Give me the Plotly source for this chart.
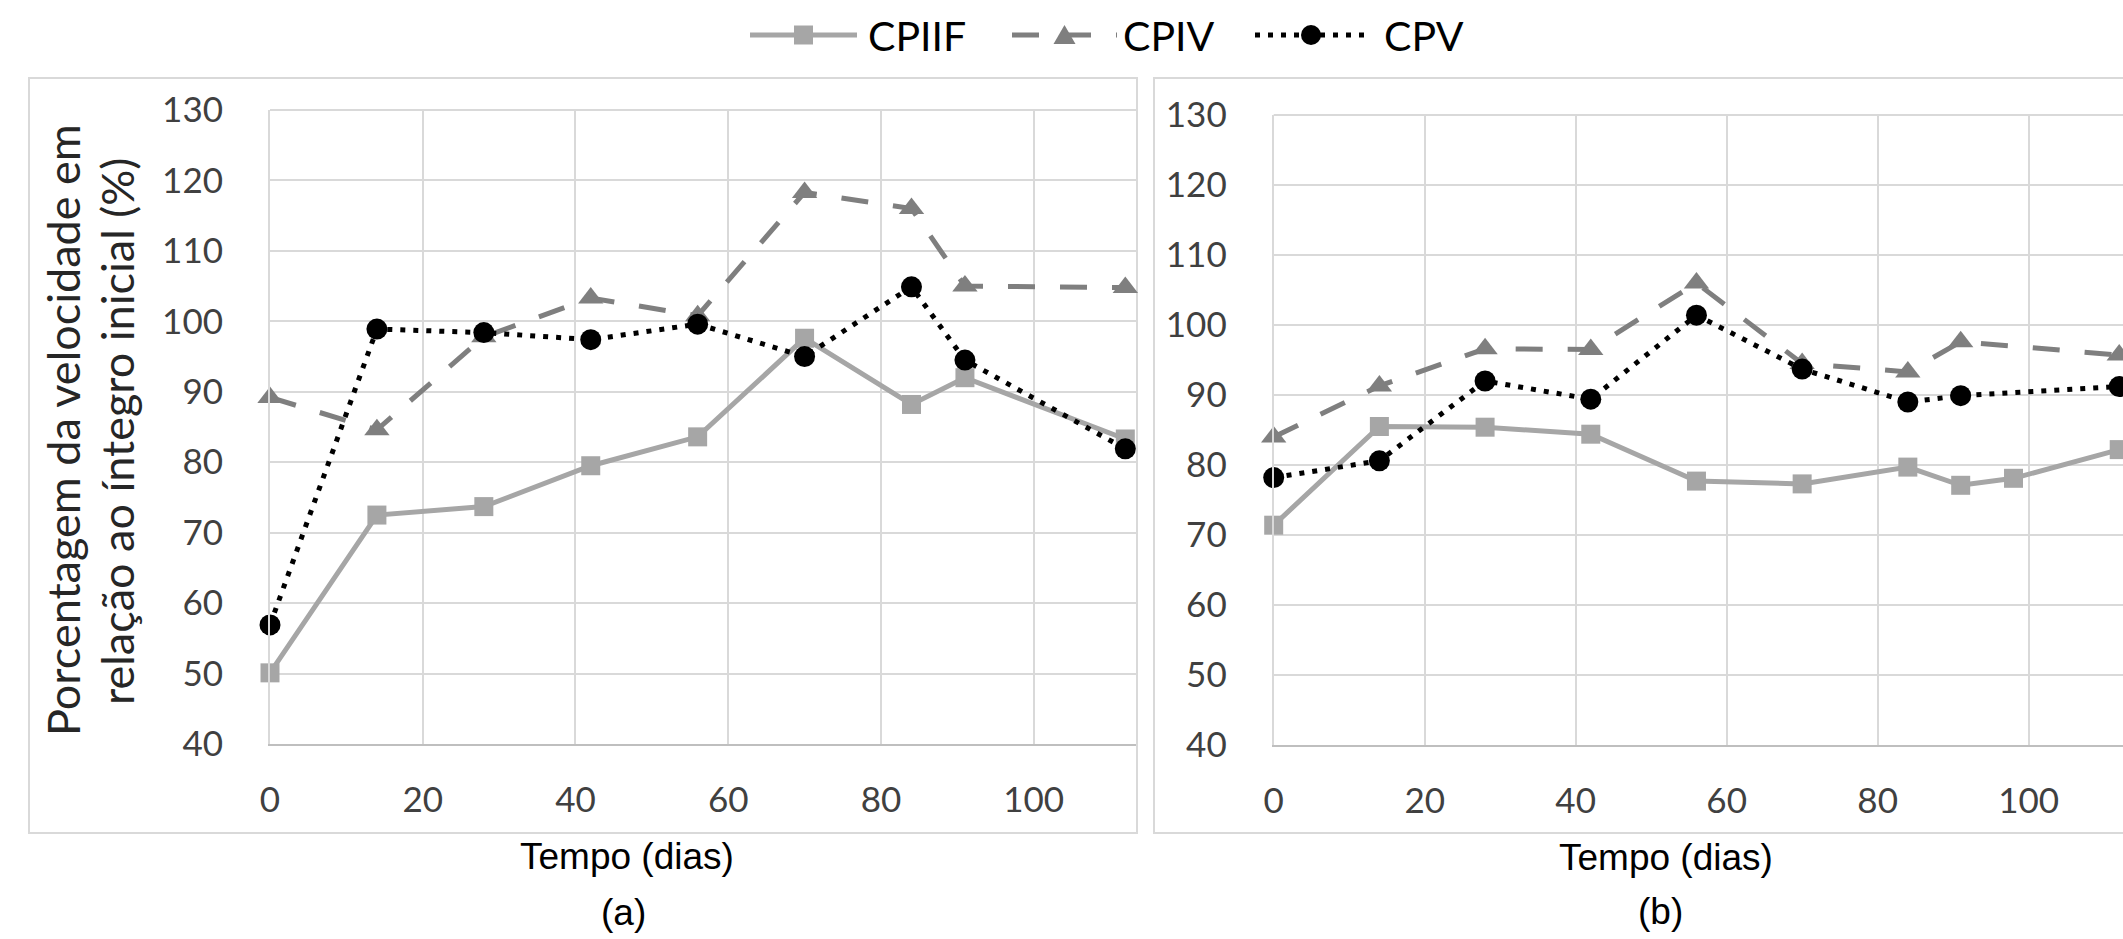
import plotly.graph_objects as go

W, H = 2123, 939

# ---------------- data ----------------
days_a = [0, 14, 28, 42, 56, 70, 84, 91, 112]
cpiif_a = [50.1, 72.5, 73.7, 79.5, 83.6, 97.6, 88.2, 92.0, 83.3]
cpiv_a = [89.2, 84.6, 97.8, 103.3, 100.8, 118.3, 116.0, 105.0, 104.8]
cpv_a = [56.9, 98.9, 98.4, 97.4, 99.6, 95.0, 104.9, 94.5, 81.9]

days_b_cpiif = [0, 14, 28, 42, 56, 70, 84, 91, 98, 112]
cpiif_b = [71.4, 85.5, 85.4, 84.4, 77.7, 77.3, 79.7, 77.1, 78.1, 82.2]
days_b = [0, 14, 28, 42, 56, 70, 84, 91, 112]
cpiv_b = [84.0, 91.3, 96.6, 96.5, 106.0, 94.5, 93.3, 97.6, 95.7]
cpv_b = [78.2, 80.6, 92.0, 89.4, 101.4, 93.7, 89.0, 89.9, 91.2]

x_ticks = [0, 20, 40, 60, 80, 100]
y_ticks = [40, 50, 60, 70, 80, 90, 100, 110, 120, 130]

series_names = ["CPIIF", "CPIV", "CPV"]

# ---------------- styles ----------------
colors = {"CPIIF": "#A6A6A6", "CPIV": "#7F7F7F", "CPV": "#000000"}
dashes = {"CPIIF": "solid", "CPIV": "27px,25px", "CPV": "5px,8px"}
symbols = {"CPIIF": "square", "CPIV": "triangle-up", "CPV": "circle"}
msizes = {"CPIIF": 19, "CPIV": 22, "CPV": 21}

fig = go.Figure()

panel_a = [(days_a, cpiif_a), (days_a, cpiv_a), (days_a, cpv_a)]
panel_b = [(days_b_cpiif, cpiif_b), (days_b, cpiv_b), (days_b, cpv_b)]

for axes, panel in ((("x", "y"), panel_a), (("x2", "y2"), panel_b)):
    for name, (xs, ys) in zip(series_names, panel):
        fig.add_trace(go.Scatter(
            x=xs, y=ys, mode="lines+markers", name=name,
            xaxis=axes[0], yaxis=axes[1], showlegend=False, cliponaxis=False,
            line=dict(color=colors[name], width=5, dash=dashes[name]),
            marker=dict(symbol=symbols[name], size=msizes[name], color=colors[name],
                        line=dict(width=0))))

def px_x(p):
    return p / W

def px_y(p):
    return 1 - p / H

tick_font = dict(family="Lato", size=35, color="#404040")
grid = "#D9D9D9"

common_x = dict(tickvals=x_ticks, showgrid=True, gridcolor=grid, gridwidth=2,
                zeroline=False, showline=True, linecolor="#BFBFBF", linewidth=2,
                ticks="", tickfont=tick_font, ticklabelstandoff=24, automargin=False)
common_y = dict(tickvals=y_ticks, range=[40, 130], showgrid=True, gridcolor=grid,
                gridwidth=2, zeroline=False, showline=True, linecolor=grid,
                linewidth=2, ticks="", tickfont=tick_font, ticklabelstandoff=38,
                automargin=False)

fig.update_layout(
    width=W, height=H, autosize=False,
    margin=dict(l=0, r=0, t=0, b=0, pad=0, autoexpand=False),
    paper_bgcolor="white", plot_bgcolor="white",
    xaxis=dict(domain=[px_x(270), px_x(1136)], range=[0, 113.4], anchor="y", **common_x),
    yaxis=dict(domain=[px_y(744), px_y(110)], anchor="x", **common_y),
    xaxis2=dict(domain=[px_x(1273.7), 1.0], range=[0, 112.5], anchor="y2", **common_x),
    yaxis2=dict(domain=[px_y(745), px_y(115)], anchor="x2", **common_y),
    showlegend=False,
)

shapes = []
# top gridlines
for xa, ya in (("x", "y"), ("x2", "y2")):
    shapes.append(dict(type="line", xref=f"{xa} domain", yref=f"{ya} domain",
                       x0=0, x1=1, y0=1, y1=1, line=dict(color=grid, width=2), layer="below"))
# chart area borders
shapes.append(dict(type="rect", xref="paper", yref="paper",
                   x0=px_x(29), x1=px_x(1137), y0=px_y(833), y1=px_y(78),
                   line=dict(color="#D9D9D9", width=2), layer="below"))
shapes.append(dict(type="rect", xref="paper", yref="paper",
                   x0=px_x(1154), x1=px_x(2140), y0=px_y(833), y1=px_y(78),
                   line=dict(color="#D9D9D9", width=2), layer="below"))

# ---------------- custom legend (decoration, pixel layout) ----------------
leg_y = 35
leg_items = [  # (name, sample start, sample end, text left)
    ("CPIIF", 750, 857, 866),
    ("CPIV", 1012, 1117, 1121),
    ("CPV", 1255, 1367, 1382),
]
annotations = []
for name, s0, s1, tx in leg_items:
    shapes.append(dict(type="line", xref="paper", yref="paper",
                       x0=px_x(s0), x1=px_x(s1), y0=px_y(leg_y), y1=px_y(leg_y),
                       line=dict(color=colors[name], width=5, dash=dashes[name])))
    cx = (s0 + s1) / 2
    if symbols[name] == "square":
        h = 9.5
        shapes.append(dict(type="rect", xref="paper", yref="paper",
                           x0=px_x(cx - h), x1=px_x(cx + h), y0=px_y(leg_y + h), y1=px_y(leg_y - h),
                           fillcolor=colors[name], line=dict(width=0)))
    elif symbols[name] == "triangle-up":
        path = (f"M {px_x(cx - 11)} {px_y(leg_y + 9)} L {px_x(cx + 11)} {px_y(leg_y + 9)} "
                f"L {px_x(cx)} {px_y(leg_y - 10)} Z")
        shapes.append(dict(type="path", xref="paper", yref="paper", path=path,
                           fillcolor=colors[name], line=dict(width=0)))
    else:
        r = 10
        shapes.append(dict(type="circle", xref="paper", yref="paper",
                           x0=px_x(cx - r), x1=px_x(cx + r), y0=px_y(leg_y + r), y1=px_y(leg_y - r),
                           fillcolor=colors[name], line=dict(width=0)))
    annotations.append(dict(text=name, x=px_x(tx), y=px_y(leg_y), xanchor="left",
                            yanchor="middle", font=dict(family="Lato", size=41, color="#000000")))
fig.update_layout(shapes=shapes)

arial = dict(family="Liberation Sans, Arial", size=37, color="#000000")
ytitle_font = dict(family="Lato", size=45, color="#262626")
annotations += [
    dict(text="Tempo (dias)", x=px_x(627), y=px_y(856), font=arial),
    dict(text="(a)", x=px_x(623), y=px_y(912), font=arial),
    dict(text="Tempo (dias)", x=px_x(1666), y=px_y(857), font=arial),
    dict(text="(b)", x=px_x(1660), y=px_y(911), font=arial),
    dict(text="Porcentagem da velocidade em", x=px_x(63), y=px_y(430),
         textangle=-90, font=ytitle_font),
    dict(text="relação ao íntegro inicial (%)", x=px_x(117), y=px_y(432),
         textangle=-90, font=ytitle_font),
]
for a in annotations:
    a.setdefault("xanchor", "center")
    a.setdefault("yanchor", "middle")
    a.update(xref="paper", yref="paper", showarrow=False)
fig.update_layout(annotations=annotations)

fig.write_html(
    "out.html",
    config={"displayModeBar": False},
    post_script="document.body.style.margin='0';document.body.style.padding='0';"
                "document.body.style.overflow='hidden';",
)
